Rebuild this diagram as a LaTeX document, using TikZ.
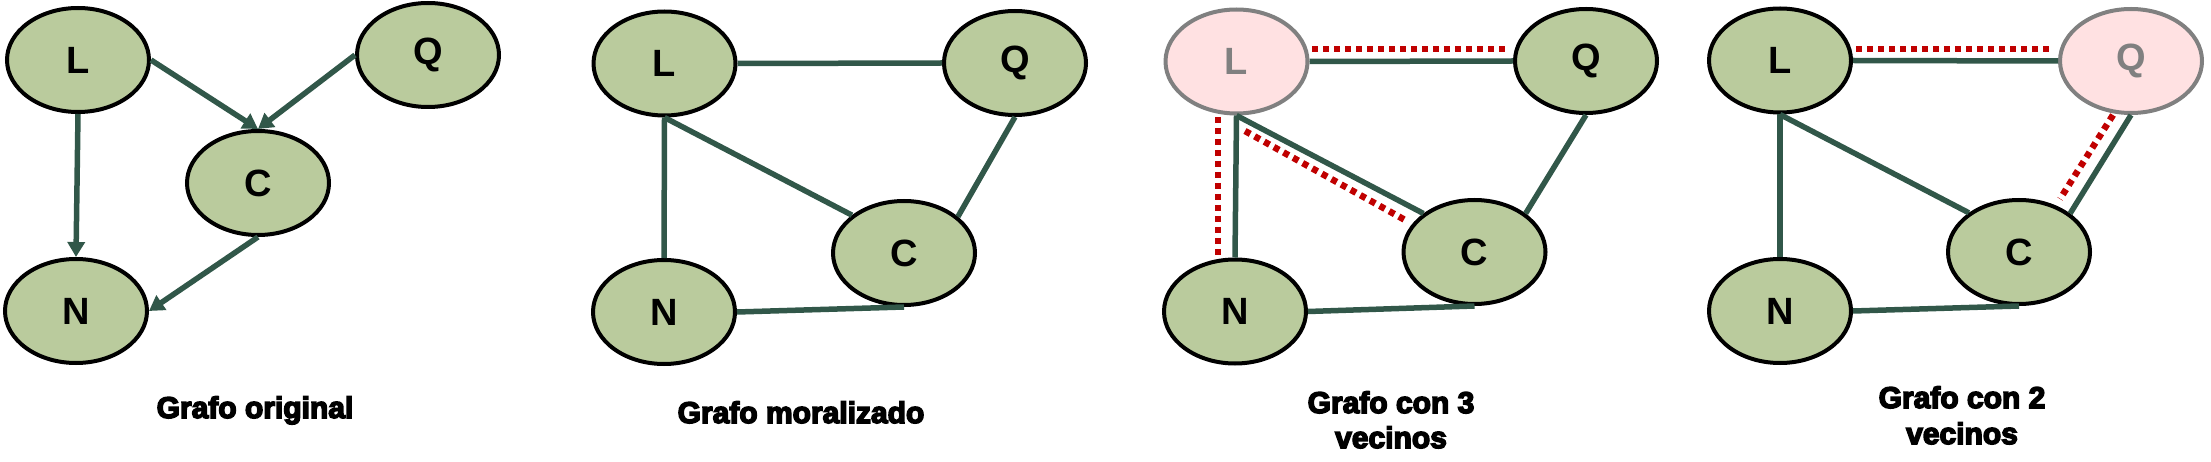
\documentclass[tikz,border=0pt]{standalone}
\usepackage{fontspec}
\setmainfont{Liberation Sans}
\newfontfamily\titlefont{Liberation Sans}[BoldFeatures={FakeBold=5}]
\usetikzlibrary{shapes.geometric,arrows.meta}
\definecolor{edgegreen}{RGB}{49,87,73}
\definecolor{nodegreen}{RGB}{186,203,157}
\definecolor{nodepink}{RGB}{255,225,226}
\definecolor{dotred}{RGB}{192,0,0}
\definecolor{graytext}{RGB}{128,128,128}
\begin{document}
\begin{tikzpicture}[x=1pt,y=-1pt,
 vnode/.style={ellipse, draw=black, line width=4pt, fill=nodegreen, inner sep=0pt,
   minimum width=142pt, minimum height=104pt, font=\fontsize{38}{38}\selectfont\bfseries},
 hnode/.style={vnode, fill=nodepink, draw=graytext, text=graytext},
 link/.style={draw=edgegreen, line width=5.5pt},
 arr/.style={link, -{Triangle[length=15pt,width=17pt]}},
 reddot/.style={draw=dotred, line width=6.5pt, dash pattern=on 6pt off 5pt},
 title/.style={font=\titlefont\fontsize{30}{35}\selectfont\bfseries, inner sep=0pt, anchor=base}]
\useasboundingbox (0,0) rectangle (2211,462);

% ---------- Panel 1: Grafo original ----------
\node[vnode] (L1) at (78,60) {L};
\node[vnode] (Q1) at (428,55) {Q};
\node[vnode] (C1) at (258,183) {C};
\node[vnode] (N1) at (76,311) {N};
\draw[arr] (L1.east) -- (C1.north);
\draw[arr] (Q1.west) -- (C1.north);
\draw[arr] (L1.south) -- (N1.north);
\draw[arr] (C1.south) -- (N1.east);
\node[title] (T1) at (255,418) {Grafo original};

% ---------- Panel 2: Grafo moralizado ----------
\node[vnode] (L2) at (664.5,63.5) {L};
\node[vnode] (Q2) at (1015,63) {Q};
\node[vnode] (C2) at (904,253) {C};
\node[vnode] (N2) at (664,312) {N};
\draw[link] (L2.east) -- (Q2.west);
\draw[link] (L2.south) -- (N2.north);
\draw[link] (L2.south) -- (C2.144);
\draw[link] (Q2.south) -- (C2.34);
\draw[link] (N2.east) -- (C2.south);
\node[title] (T2) at (801,423) {Grafo moralizado};

% ---------- Panel 3: Grafo con 3 vecinos ----------
\node[hnode] (L3) at (1236.5,61.5) {L};
\node[vnode] (Q3) at (1586,61) {Q};
\node[vnode] (C3) at (1474.5,252) {C};
\node[vnode] (N3) at (1235,311.5) {N};
\draw[link] (L3.east) -- (Q3.west);
\draw[link] (L3.south) -- (N3.north);
\draw[link] (L3.south) -- (C3.143);
\draw[link] (Q3.south) -- (C3.37);
\draw[link] (N3.east) -- (C3.south);
\coordinate (d3a) at (1312,49);  \coordinate (d3b) at (1507,49);
\coordinate (d3c) at (1218,117); \coordinate (d3d) at (1218,255);
\coordinate (d3e) at (1245,131); \coordinate (d3f) at (1405,220);
\draw[reddot] (d3a) -- (d3b);
\draw[reddot] (d3c) -- (d3d);
\draw[reddot] (d3e) -- (d3f);
\node[title] (T3) at (1391,413) {Grafo con 3};
\node[title] (T3b) at (1391,448) {vecinos};

% ---------- Panel 4: Grafo con 2 vecinos ----------
\node[vnode] (L4) at (1780,60.5) {L};
\node[hnode] (Q4) at (2131,61) {Q};
\node[vnode] (C4) at (2019,252) {C};
\node[vnode] (N4) at (1780,311) {N};
\draw[link] (L4.east) -- (Q4.west);
\draw[link] (L4.south) -- (N4.north);
\draw[link] (L4.south) -- (C4.142);
\draw[link] (Q4.south) -- (C4.37);
\draw[link] (N4.east) -- (C4.south);
\coordinate (d4a) at (1856,49);  \coordinate (d4b) at (2052,49);
\coordinate (d4c) at (2113,115); \coordinate (d4d) at (2060,199);
\draw[reddot] (d4a) -- (d4b);
\draw[reddot] (d4c) -- (d4d);
\node[title] (T4) at (1962,408) {Grafo con 2};
\node[title] (T4b) at (1962,444) {vecinos};
\end{tikzpicture}
\end{document}
